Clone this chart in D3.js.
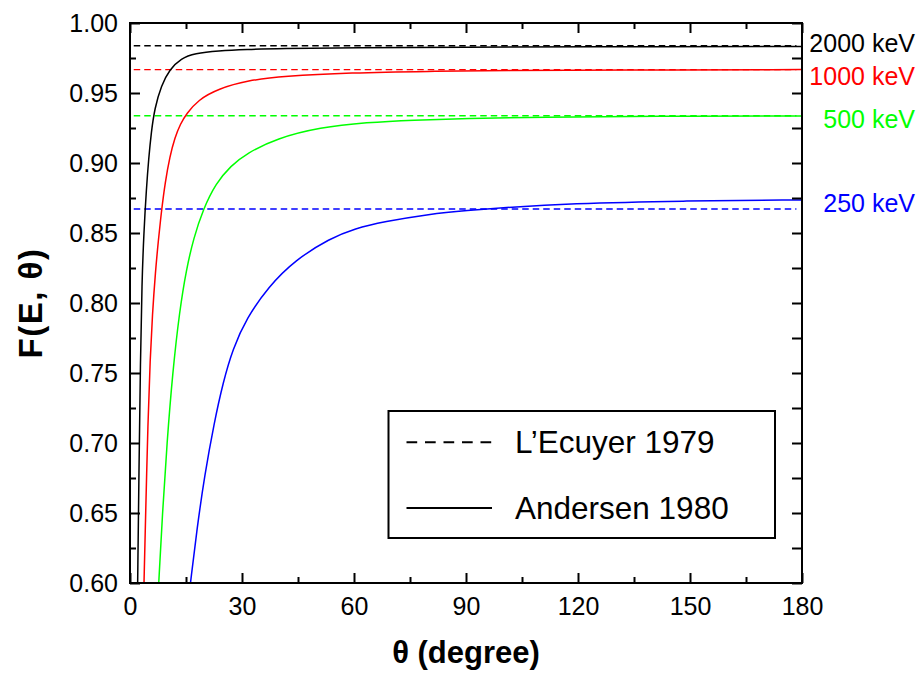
<!DOCTYPE html>
<html>
<head>
<meta charset="utf-8">
<script src="https://cdn.jsdelivr.net/npm/d3@7"></script>
<style>
  html, body { margin: 0; padding: 0; background: #fff; }
  svg { display: block; }
  text { font-family: "Liberation Sans", Arial, sans-serif; fill: #000; }
</style>
</head>
<body>
<svg id="chart" width="921" height="674"></svg>
<script>
// Energies and colours of the four series
const energies = ["2000 keV", "1000 keV", "500 keV", "250 keV"];
const colors = ["#000000", "#ff0000", "#00ff00", "#0000ff"];

// L'Ecuyer 1979: angle-independent values (dashed lines)
const lecuyer = [0.9838, 0.9667, 0.9338, 0.8671];

// Andersen 1980: F(E, theta) curves
const theta2000 = [2.05, 2.4, 2.8, 3.2, 3.7, 4.4, 5.0, 5.7, 6.6, 8.4, 10.6, 13.7, 17.3, 23.6, 31.2, 40, 60, 90, 120, 180];
const f2000     = [0.600, 0.680, 0.760, 0.815, 0.850, 0.882, 0.903, 0.922, 0.939, 0.9555, 0.9668, 0.9748, 0.9783, 0.9802, 0.9812, 0.9818, 0.9824, 0.9828, 0.9830, 0.9832];

const theta1000 = [3.75, 4.2, 4.8, 5.4, 6.0, 6.8, 7.6, 8.4, 9.4, 10.7, 12.0, 13.5, 15.1, 18.2, 23.6, 31.6, 41, 59, 80, 100, 130, 180];
const f1000     = [0.600, 0.650, 0.715, 0.760, 0.792, 0.822, 0.845, 0.865, 0.886, 0.905, 0.918, 0.928, 0.935, 0.945, 0.953, 0.959, 0.962, 0.9645, 0.9655, 0.9660, 0.9664, 0.9667];

const theta500 = [7.7, 8.7, 9.9, 11.4, 13.3, 15.1, 17.0, 19.6, 23.0, 27.0, 31.3, 39.3, 50.9, 63.4, 75.9, 90, 110, 140, 180];
const f500     = [0.600, 0.650, 0.700, 0.750, 0.795, 0.824, 0.846, 0.867, 0.8855, 0.898, 0.907, 0.9176, 0.9255, 0.929, 0.9307, 0.9318, 0.9328, 0.9334, 0.9336];

const theta250 = [16.2, 18.0, 20.0, 22.5, 25.0, 27.5, 31.2, 37.1, 44.2, 53.6, 60.3, 67.9, 80.4, 90, 101.8, 117, 148, 180];
const f250     = [0.600, 0.640, 0.677, 0.714, 0.744, 0.767, 0.789, 0.8117, 0.8307, 0.8462, 0.8533, 0.858, 0.8636, 0.866, 0.8684, 0.871, 0.873, 0.8736];

const thetas = [theta2000, theta1000, theta500, theta250];
const values = [f2000, f1000, f500, f250];

// Axis ticks
const xTicks = [0, 30, 60, 90, 120, 150, 180];
const yTicks = [0.60, 0.65, 0.70, 0.75, 0.80, 0.85, 0.90, 0.95, 1.00];

// Legend entries
const legendLabels = ["L\u2019Ecuyer 1979", "Andersen 1980"];

// ---- layout ----
const plot = { left: 130, right: 802, top: 23, bottom: 583 };
const labelOffsets = [6, 15.5, 12.5, 2.7];   // baseline offset of energy labels from their dashed line

const svg = d3.select("#chart");
const x = d3.scaleLinear().domain([0, 180]).range([plot.left, plot.right]);
const y = d3.scaleLinear().domain([0.60, 1.00]).range([plot.bottom, plot.top]);

svg.append("defs").append("clipPath").attr("id", "clip")
  .append("rect")
  .attr("x", plot.left).attr("y", plot.top)
  .attr("width", plot.right - plot.left).attr("height", plot.bottom - plot.top);

const marks = svg.append("g").attr("clip-path", "url(#clip)");

// dashed reference levels
marks.selectAll("line.ref")
  .data(lecuyer)
  .join("line")
  .attr("class", "ref")
  .attr("x1", x(1)).attr("x2", x(178.5))
  .attr("y1", d => y(d)).attr("y2", d => y(d))
  .attr("stroke", (d, i) => colors[i])
  .attr("stroke-width", 1.4)
  .attr("stroke-dasharray", "6.5,4");

// solid curves
const line = d3.line()
  .x(d => x(d[0]))
  .y(d => y(d[1]))
  .curve(d3.curveBasis);

marks.selectAll("path.curve")
  .data(thetas.map((t, i) => t.map((v, j) => [v, values[i][j]])))
  .join("path")
  .attr("class", "curve")
  .attr("d", line)
  .attr("fill", "none")
  .attr("stroke", (d, i) => colors[i])
  .attr("stroke-width", 1.5);

// ---- axes ----
const fmtY = d3.format(".2f");
const minorX = d3.range(15, 180, 30);
const minorY = d3.range(0.625, 1.0, 0.05);

function styleAxis(g) {
  g.select(".domain").remove();
  g.selectAll(".tick line").attr("stroke", "#000").attr("stroke-width", 2);
  g.selectAll(".tick text").style("font-size", "25px").style("font-family", "'Liberation Sans', Arial, sans-serif");
}

// bottom
svg.append("g").attr("transform", `translate(0,${plot.bottom})`)
  .call(d3.axisBottom(x).tickValues(xTicks).tickSize(-10).tickPadding(14).tickFormat(d3.format("d")))
  .call(styleAxis);
svg.append("g").attr("transform", `translate(0,${plot.bottom})`)
  .call(d3.axisBottom(x).tickValues(minorX).tickSize(-6).tickFormat(""))
  .call(styleAxis);
// left
svg.append("g").attr("transform", `translate(${plot.left},0)`)
  .call(d3.axisLeft(y).tickValues(yTicks).tickSize(-10).tickPadding(12).tickFormat(fmtY))
  .call(styleAxis);
svg.append("g").attr("transform", `translate(${plot.left},0)`)
  .call(d3.axisLeft(y).tickValues(minorY).tickSize(-6).tickFormat(""))
  .call(styleAxis);
// top
svg.append("g").attr("transform", `translate(0,${plot.top})`)
  .call(d3.axisTop(x).tickValues(xTicks).tickSize(-10).tickFormat(""))
  .call(styleAxis);
svg.append("g").attr("transform", `translate(0,${plot.top})`)
  .call(d3.axisTop(x).tickValues(minorX).tickSize(-6).tickFormat(""))
  .call(styleAxis);
// right
svg.append("g").attr("transform", `translate(${plot.right},0)`)
  .call(d3.axisRight(y).tickValues(yTicks).tickSize(-10).tickFormat(""))
  .call(styleAxis);
svg.append("g").attr("transform", `translate(${plot.right},0)`)
  .call(d3.axisRight(y).tickValues(minorY).tickSize(-10).tickFormat(""))
  .call(styleAxis);

// frame
svg.append("rect")
  .attr("x", plot.left).attr("y", plot.top)
  .attr("width", plot.right - plot.left).attr("height", plot.bottom - plot.top)
  .attr("fill", "none").attr("stroke", "#000").attr("stroke-width", 2);

// axis titles
svg.append("text")
  .attr("x", (plot.left + plot.right) / 2).attr("y", 663)
  .attr("text-anchor", "middle")
  .style("font-size", "31px").style("font-weight", "bold")
  .text("\u03b8 (degree)");

svg.append("text")
  .attr("transform", `translate(42,${(plot.top + plot.bottom) / 2}) rotate(-90)`)
  .attr("text-anchor", "middle")
  .style("font-size", "33px").style("font-weight", "bold")
  .style("letter-spacing", "1.5px")
  .text("F(E, \u03b8)");

// energy labels on the right
svg.selectAll("text.energy")
  .data(energies)
  .join("text")
  .attr("class", "energy")
  .attr("x", 915)
  .attr("y", (d, i) => y(lecuyer[i]) + labelOffsets[i])
  .attr("text-anchor", "end")
  .style("font-size", "25px")
  .style("fill", (d, i) => colors[i])
  .text(d => d);

// ---- legend ----
const lg = svg.append("g");
lg.append("rect")
  .attr("x", 388.5).attr("y", 411)
  .attr("width", 386.5).attr("height", 127)
  .attr("fill", "#fff").attr("stroke", "#000").attr("stroke-width", 2);

const legendRows = [442.3, 508];
lg.selectAll("line.key")
  .data(legendLabels)
  .join("line")
  .attr("class", "key")
  .attr("x1", 406.5).attr("x2", 492)
  .attr("y1", (d, i) => legendRows[i]).attr("y2", (d, i) => legendRows[i])
  .attr("stroke", "#000").attr("stroke-width", 2)
  .attr("stroke-dasharray", (d, i) => i === 0 ? "10.7,7.8" : null);

lg.selectAll("text.key")
  .data(legendLabels)
  .join("text")
  .attr("class", "key")
  .attr("x", 515)
  .attr("y", (d, i) => legendRows[i] + 10.8)
  .style("font-size", "31.5px")
  .text(d => d);
</script>
</body>
</html>
